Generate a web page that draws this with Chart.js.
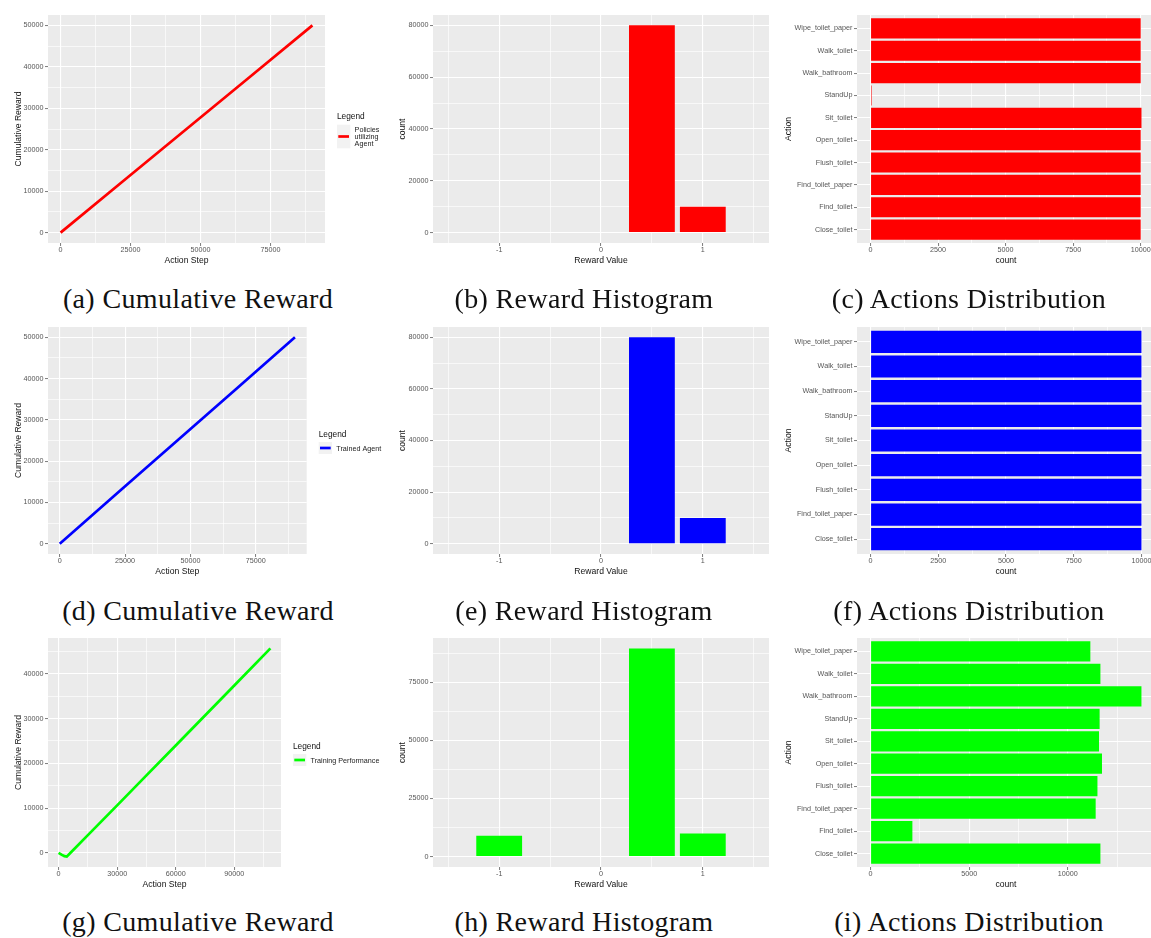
<!DOCTYPE html>
<html>
<head>
<meta charset="utf-8">
<title>Agent evaluation: cumulative reward, reward histogram and action distribution</title>
<script src="https://cdn.jsdelivr.net/npm/chart.js@4.4.1/dist/chart.umd.min.js"></script>
<style>
  html, body { margin: 0; padding: 0; background: #ffffff; overflow: hidden; width: 1151px; height: 938px; }
  canvas { position: absolute; }
  .cap {
    position: absolute; width: 400px; text-align: center; white-space: nowrap;
    font-family: 'Liberation Serif', 'Times New Roman', serif;
    font-size: 28px; line-height: 28px; letter-spacing: 0.35px; color: #111111;
  }
</style>
</head>
<body>
<canvas id="chartA"></canvas>
<canvas id="chartB"></canvas>
<canvas id="chartC"></canvas>
<canvas id="chartD"></canvas>
<canvas id="chartE"></canvas>
<canvas id="chartF"></canvas>
<canvas id="chartG"></canvas>
<canvas id="chartH"></canvas>
<canvas id="chartI"></canvas>
<div id="captions"></div>
<script>
// ---------------------------------------------------------------
// Data
// ---------------------------------------------------------------

// Cumulative reward over action steps
const policyStep      = [0, 22500, 45000, 67500, 90000];
const policyCumReward = [0, 12500, 25000, 37500, 50000];
const trainedStep      = [0, 22500, 45000, 67500, 90000];
const trainedCumReward = [0, 12500, 25000, 37500, 50000];
const trainingStep      = [0, 1500, 3000, 4200, 6000, 15000, 30000, 45000, 60000, 75000, 90000, 108500];
const trainingCumReward = [0, -400, -750, -850, -50, 3950, 10600, 17300, 24000, 30700, 37400, 45700];

// Reward histograms
const rewardValues         = [-1, 0.5, 1];
const policyRewardCounts   = [0, 80000, 10000];
const trainedRewardCounts  = [0, 80000, 10000];
const trainingRewardCounts = [9000, 89600, 9900];

// Action counts
const allActions = ["Close_toilet", "Find_toilet", "Find_toilet_paper", "Flush_toilet", "Open_toilet",
                    "Sit_toilet", "StandUp", "Walk_bathroom", "Walk_toilet", "Wipe_toilet_paper"];
const policyActionCounts = [10000, 10000, 10000, 10000, 10000, 10030, 40, 10000, 10000, 10000];
const trainedActions = ["Close_toilet", "Find_toilet_paper", "Flush_toilet", "Open_toilet",
                        "Sit_toilet", "StandUp", "Walk_bathroom", "Walk_toilet", "Wipe_toilet_paper"];
const trainedActionCounts = [10000, 10000, 10000, 10000, 10000, 10000, 10000, 10000, 10000];
const trainingActionCounts = [11650, 2120, 11410, 11500, 11730, 11580, 11610, 13730, 11650, 11140];

// Tick labels
const stepTicks90k    = [0, 25000, 50000, 75000];
const stepTicks110k   = [0, 30000, 60000, 90000];
const cumTicks50k     = [0, 10000, 20000, 30000, 40000, 50000];
const cumTicks45k     = [0, 10000, 20000, 30000, 40000];
const rewardTicks     = [-1, 0, 1];
const countTicks80k   = [0, 20000, 40000, 60000, 80000];
const countTicks90k   = [0, 25000, 50000, 75000];
const actionTicks10k  = [0, 2500, 5000, 7500, 10000];
const actionTicks14k  = [0, 5000, 10000];

// Legend entries and captions
const policyLegend   = ["Policies", "utilizing", "Agent"];
const trainedLegend  = ["Trained Agent"];
const trainingLegend = ["Training Performance"];
const captions = [
  "(a) Cumulative Reward", "(b) Reward Histogram", "(c) Actions Distribution",
  "(d) Cumulative Reward", "(e) Reward Histogram", "(f) Actions Distribution",
  "(g) Cumulative Reward", "(h) Reward Histogram", "(i) Actions Distribution"
];

// ---------------------------------------------------------------
// Styling helpers (grey panel, white major/minor grid)
// ---------------------------------------------------------------
const SANS = "'Liberation Sans', Arial, Helvetica, sans-serif";
Chart.defaults.font.family = SANS;
Chart.defaults.animation = false;

const RED = '#FF0000', BLUE = '#0000FF', GREEN = '#00FF00';

function tickSet(major, min, max, withMinor) {
  if (!withMinor) return major.map(v => ({ value: v, main: true }));
  const half = (major[1] - major[0]) / 2;
  let v = major[0];
  while (v - half >= min) v -= half;
  const out = [];
  for (; v <= max + 1e-9; v += half) {
    out.push({ value: v, main: major.some(m => Math.abs(m - v) < 1e-9) });
  }
  return out;
}

function gridStyle() {
  return {
    offset: false,
    color: c => (c.tick && c.tick.main) ? '#FFFFFF' : 'rgba(255,255,255,0.9)',
    lineWidth: c => (c.tick && c.tick.main) ? 1.1 : 0.7,
    tickColor: c => (c.tick && c.tick.main) ? '#5A5A5A' : 'rgba(0,0,0,0)',
    tickLength: 3,
    tickWidth: 0.8,
    drawTicks: true
  };
}

function numAxis(min, max, major, titleText, isX) {
  return {
    type: 'linear', min, max, offset: false, position: isX ? 'bottom' : 'left',
    afterBuildTicks: s => { s.ticks = tickSet(major, min, max, true); },
    border: { display: false },
    grid: gridStyle(),
    ticks: {
      autoSkip: false, maxRotation: 0, minRotation: 0,
      padding: isX ? 0 : 1.5, color: '#555555', font: { size: 7.2 },
      callback: (v, i, t) => t[i].main ? String(t[i].value) : ''
    },
    title: { display: true, text: titleText, color: '#111111', font: { size: 8.6 },
             padding: isX ? { top: 0, bottom: 2.3 } : { top: 0, bottom: 0 } }
  };
}

function catAxis(names, titleText) {
  const n = names.length;
  return {
    type: 'linear', min: -0.6, max: n - 0.4, offset: false, position: 'left',
    afterBuildTicks: s => { s.ticks = names.map((_, i) => ({ value: i, main: true })); },
    border: { display: false },
    grid: gridStyle(),
    ticks: {
      autoSkip: false, maxRotation: 0, minRotation: 0,
      padding: 1.5, color: '#555555', font: { size: 7.2 },
      callback: (v, i, t) => names[t[i].value]
    },
    title: { display: true, text: titleText, color: '#111111', font: { size: 8.6 }, padding: { top: 0, bottom: 0 } }
  };
}

const panelBackground = {
  id: 'panelBackground',
  beforeDraw(chart) {
    const { ctx, chartArea: a } = chart;
    ctx.save();
    ctx.fillStyle = '#EBEBEB';
    ctx.fillRect(a.left, a.top, a.right - a.left, a.bottom - a.top);
    ctx.restore();
  }
};

// Side legend: "Legend" title, grey key with a line sample, wrapped label
const keyLegend = {
  id: 'keyLegend',
  afterDraw(chart, args, o) {
    if (!o || !o.lines) return;
    const { ctx, chartArea: a } = chart;
    const ds = chart.data.datasets[0];
    const left = a.right + 12;
    const lineH = 7.2;
    const boxW = 13.3;
    const boxH = Math.max(12, o.lines.length * lineH + 2);
    const mid = (a.top + a.bottom) / 2 + 1;
    const boxTop = mid - (13 + boxH) / 2 + 13;
    ctx.save();
    ctx.textBaseline = 'middle';
    ctx.textAlign = 'left';
    ctx.fillStyle = '#111111';
    ctx.font = '8.3px ' + SANS;
    ctx.fillText(o.title, left, boxTop - 7.5);
    ctx.fillStyle = '#F2F2F2';
    ctx.fillRect(left, boxTop, boxW, boxH);
    ctx.strokeStyle = ds.borderColor;
    ctx.lineWidth = 2.7;
    ctx.beginPath();
    ctx.moveTo(left + 1.3, boxTop + boxH / 2);
    ctx.lineTo(left + boxW - 1.3, boxTop + boxH / 2);
    ctx.stroke();
    ctx.fillStyle = '#222222';
    ctx.font = '7.2px ' + SANS;
    const cy = boxTop + boxH / 2 + 0.8;
    o.lines.forEach((t, i) => {
      ctx.fillText(t, left + boxW + 4.3, cy + (i - (o.lines.length - 1) / 2) * lineH);
    });
    ctx.restore();
  }
};

// ---------------------------------------------------------------
// Grid of panels
// ---------------------------------------------------------------
const cols = [
  { cx: 0,   cw: 420, plotLeft: 48,  yTitleX: 18.3, capX: 198 },
  { cx: 380, cw: 395, plotLeft: 433, yTitleX: 403,  capX: 584 },
  { cx: 775, cw: 385, plotLeft: 857, yTitleX: 788.3, capX: 969 }
];
const rows = [
  { top: 15,  bottom: 243, capBase: 308.3 },
  { top: 327, bottom: 554, capBase: 620 },
  { top: 638, bottom: 867, capBase: 931.5 }
];
const PAD_TOP = 10, X_AXIS_H = 25, TITLE_HALF = 8.6 * 1.2 / 2;

function mount(id, col, row, plotRight, config) {
  const c = document.getElementById(id);
  const w = col.cw, h = PAD_TOP + (row.bottom - row.top) + X_AXIS_H;
  c.width = w; c.height = h;
  c.style.width = w + 'px'; c.style.height = h + 'px';
  c.style.left = col.cx + 'px'; c.style.top = (row.top - PAD_TOP) + 'px';
  const o = config.options;
  o.responsive = false;
  o.maintainAspectRatio = false;
  o.devicePixelRatio = 1;
  o.layout = { padding: { top: PAD_TOP, right: col.cx + w - plotRight, left: 0, bottom: 0 } };
  const yW = col.plotLeft - col.cx;
  o.scales.y.afterFit = s => { s.width = yW; };
  o.scales.x.afterFit = s => { s.height = X_AXIS_H; };
  o.scales.y.title.padding = { top: col.yTitleX - col.cx - TITLE_HALF, bottom: 0 };
  o.plugins = Object.assign({ legend: { display: false }, tooltip: { enabled: false } }, o.plugins || {});
  config.plugins = [panelBackground, keyLegend];
  return new Chart(c, config);
}

function pairs(xs, ys) { return xs.map((x, i) => ({ x, y: ys[i] })); }

function lineChart(xs, ys, color, legendLines, xMin, xMax, xTicks, yMin, yMax, yTicks) {
  return {
    type: 'line',
    data: { datasets: [{
      label: legendLines.join(' '),
      data: pairs(xs, ys),
      borderColor: color, borderWidth: 2.7,
      pointRadius: 0, tension: 0, fill: false
    }] },
    options: {
      scales: {
        x: numAxis(xMin, xMax, xTicks, 'Action Step', true),
        y: numAxis(yMin, yMax, yTicks, 'Cumulative Reward', false)
      },
      plugins: { keyLegend: { title: 'Legend', lines: legendLines } }
    }
  };
}

function histChart(counts, color, yMin, yMax, yTicks) {
  return {
    type: 'bar',
    data: { datasets: [{
      data: pairs(rewardValues, counts),
      backgroundColor: color,
      borderWidth: 0,
      barPercentage: 0.9, categoryPercentage: 1
    }] },
    options: {
      scales: {
        x: numAxis(-1.65, 1.65, rewardTicks, 'Reward Value', true),
        y: numAxis(yMin, yMax, yTicks, 'count', false)
      }
    }
  };
}

function actionChart(names, counts, color, xMin, xMax, xTicks) {
  return {
    type: 'bar',
    data: { datasets: [{
      data: counts.map((v, i) => ({ x: v, y: i })),
      backgroundColor: color,
      borderWidth: 0,
      barPercentage: 0.9, categoryPercentage: 1
    }] },
    options: {
      indexAxis: 'y',
      scales: {
        x: numAxis(xMin, xMax, xTicks, 'count', true),
        y: catAxis(names, 'Action')
      }
    }
  };
}

// Row 1: policies utilizing the agent
mount('chartA', cols[0], rows[0], 325,
  lineChart(policyStep, policyCumReward, RED, policyLegend, -4500, 94500, stepTicks90k, -2500, 52500, cumTicks50k));
mount('chartB', cols[1], rows[0], 769,
  histChart(policyRewardCounts, RED, -4000, 84000, countTicks80k));
mount('chartC', cols[2], rows[0], 1155,
  actionChart(allActions, policyActionCounts, RED, -500, 10530, actionTicks10k));

// Row 2: trained agent
mount('chartD', cols[0], rows[1], 306.7,
  lineChart(trainedStep, trainedCumReward, BLUE, trainedLegend, -4500, 94500, stepTicks90k, -2500, 52500, cumTicks50k));
mount('chartE', cols[1], rows[1], 769,
  histChart(trainedRewardCounts, BLUE, -4000, 84000, countTicks80k));
mount('chartF', cols[2], rows[1], 1155,
  actionChart(trainedActions, trainedActionCounts, BLUE, -500, 10500, actionTicks10k));

// Row 3: training performance
mount('chartG', cols[0], rows[2], 281,
  lineChart(trainingStep, trainingCumReward, GREEN, trainingLegend, -5425, 113925, stepTicks110k, -3177, 48027, cumTicks45k));
mount('chartH', cols[1], rows[2], 769,
  histChart(trainingRewardCounts, GREEN, -4480, 94080, countTicks90k));
mount('chartI', cols[2], rows[2], 1155,
  actionChart(allActions, trainingActionCounts, GREEN, -687, 14417, actionTicks14k));

// Sub-figure captions
const capHolder = document.getElementById('captions');
captions.forEach((text, k) => {
  const col = cols[k % 3], row = rows[Math.floor(k / 3)];
  const d = document.createElement('div');
  d.className = 'cap';
  d.textContent = text;
  d.style.left = (col.capX - 200) + 'px';
  d.style.top = (row.capBase - 23.45) + 'px';
  capHolder.appendChild(d);
});
</script>
</body>
</html>
